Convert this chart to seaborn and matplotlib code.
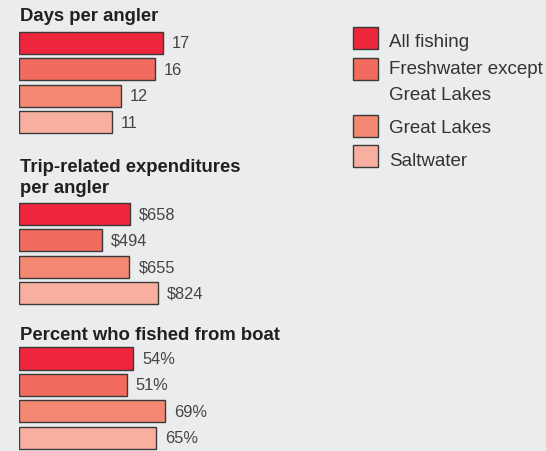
import numpy as np
import pandas as pd
import matplotlib
matplotlib.use('Agg')
import matplotlib.pyplot as plt
from matplotlib.patches import Rectangle
import seaborn as sns

sns.set_style('white')
plt.rcParams['font.family'] = ['Liberation Sans', 'DejaVu Sans']

# data
categories = ['All fishing', 'Freshwater except\nGreat Lakes', 'Great Lakes', 'Saltwater']
colors = ['#ee263c', '#f26b5f', '#f48872', '#f9afa0']
days = [17, 16, 12, 11]
spend = [658, 494, 655, 824]
boat = [54, 51, 69, 65]
days_labels = ['17', '16', '12', '11']
spend_labels = ['$658', '$494', '$655', '$824']
boat_labels = ['54%', '51%', '69%', '65%']
titles = ['Days per angler', 'Trip-related expenditures\nper angler', 'Percent who fished from boat']

bg = '#eaeced'
W, H = 546, 452
fig = plt.figure(figsize=(W / 100, H / 100), dpi=100, facecolor=bg)

def px_axes(top, bottom, left=19, width=300):
    return fig.add_axes([left / W, 1 - bottom / H, width / W, (bottom - top) / H])

def lines_text(x, base, step, s, **kw):
    # place each line on its own baseline (first line at base)
    for k, line in enumerate(s.split('\n')):
        fig.text(x / W, 1 - (base + k * step) / H, line, va='baseline', ha='left', **kw)

# (top px, bottom px, px per unit, values, labels, title baseline px)
panels = [
    (30.8, 136.2, 8.47, days, days_labels, 21),
    (201.8, 307.2, 0.1687, spend, spend_labels, 171.7),
    (346.3, 452.0, 2.113, boat, boat_labels, 340),
]

for (top, bot, scale, vals, labs, tb), title in zip(panels, titles):
    ax = px_axes(top, bot)
    ax.set_facecolor('none')
    df = pd.DataFrame({'cat': categories, 'val': vals})
    sns.barplot(data=df, x='val', y='cat', hue='cat', palette=colors, orient='h',
                width=0.84, saturation=1, edgecolor='#3a3a3a', linewidth=1,
                legend=False, ax=ax)
    ax.set_xlim(0, 300 / scale)
    ax.set_ylim(3.5, -0.5)
    ax.axis('off')
    for i, (v, t) in enumerate(zip(vals, labs)):
        ax.annotate(t, (v, i), xytext=(6.5, 0), textcoords='offset points',
                    va='center', ha='left', fontsize=11.8, color='#444444')
    lines_text(20, tb, 21.6, title, fontsize=13.3, fontweight='bold', color='#231f20')

# legend
leg_tops = [28, 59, 116, 146]
leg_base = [46.7, 74.3, 133, 165.7]
for c, lab, t, b in zip(colors, categories, leg_tops, leg_base):
    fig.add_artist(Rectangle((353 / W, 1 - (t + 22) / H), 25 / W, 22 / H,
                             transform=fig.transFigure, facecolor=c,
                             edgecolor='#3a3a3a', linewidth=1))
    lines_text(389, b, 25.7, lab, fontsize=13.5, color='#333333')

fig.savefig('out.png', dpi=100, facecolor=bg)
